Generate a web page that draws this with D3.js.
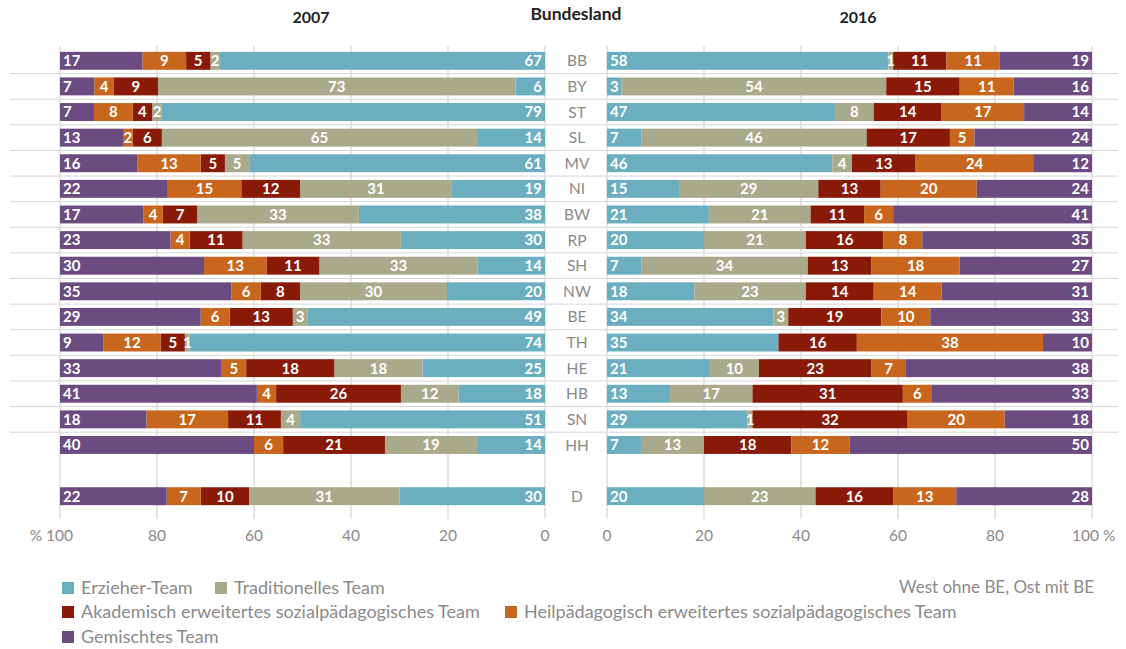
<!DOCTYPE html>
<html>
<head>
<meta charset="utf-8">
<script src="https://cdn.jsdelivr.net/npm/d3@7"></script>
<style>
  body { margin: 0; background: #fff; }
  svg { font-family: Lato, "Open Sans", sans-serif; }
</style>
</head>
<body>
<div id="chart"></div>
<script>
// data
const states = ["BB", "BY", "ST", "SL", "MV", "NI", "BW", "RP", "SH", "NW", "BE", "TH", "HE", "HB", "SN", "HH", "D"];
const teams = ["Erzieher-Team", "Traditionelles Team", "Akademisch erweitertes sozialpädagogisches Team",
               "Heilpädagogisch erweitertes sozialpädagogisches Team", "Gemischtes Team"];
const teamColors = ["#6aaec0", "#a9a98b", "#8a1a08", "#c9661d", "#6b4c80"];

// one array per team, same order as states
const erzieher2007 = [67, 6, 79, 14, 61, 19, 38, 30, 14, 20, 49, 74, 25, 18, 51, 14, 30];
const tradit2007   = [2, 73, 2, 65, 5, 31, 33, 33, 33, 30, 3, 1, 18, 12, 4, 19, 31];
const akadem2007   = [5, 9, 4, 6, 5, 12, 7, 11, 11, 8, 13, 5, 18, 26, 11, 21, 10];
const heilp2007    = [9, 4, 8, 2, 13, 15, 4, 4, 13, 6, 6, 12, 5, 4, 17, 6, 7];
const gemischt2007 = [17, 7, 7, 13, 16, 22, 17, 23, 30, 35, 29, 9, 33, 41, 18, 40, 22];

const erzieher2016 = [58, 3, 47, 7, 46, 15, 21, 20, 7, 18, 34, 35, 21, 13, 29, 7, 20];
const tradit2016   = [1, 54, 8, 46, 4, 29, 21, 21, 34, 23, 3, 0, 10, 17, 1, 13, 23];
const akadem2016   = [11, 15, 14, 17, 13, 13, 11, 16, 13, 14, 19, 16, 23, 31, 32, 18, 16];
const heilp2016    = [11, 11, 17, 5, 24, 20, 6, 8, 18, 14, 10, 38, 7, 6, 20, 12, 13];
const gemischt2016 = [19, 16, 14, 24, 12, 24, 41, 35, 27, 31, 33, 10, 38, 33, 18, 50, 28];

const ticks = [0, 20, 40, 60, 80, 100];
const note = "West ohne BE, Ost mit BE";

function buildRows(series) {
  return states.map((s, i) => {
    const row = {state: s};
    teams.forEach((t, j) => row[t] = series[j][i]);
    return row;
  });
}
const rows2007 = buildRows([erzieher2007, tradit2007, akadem2007, heilp2007, gemischt2007]);
const rows2016 = buildRows([erzieher2016, tradit2016, akadem2016, heilp2016, gemischt2016]);

const W = 1126, H = 649;
const svg = d3.select("#chart").append("svg")
  .attr("width", W).attr("height", H);

const color = d3.scaleOrdinal().domain(teams).range(teamColors);

// row positions, with an empty slot before D
const rowKeys = states.slice(0, 16).concat(["_gap", "D"]);
const y = d3.scaleBand().domain(rowKeys).range([48, 509])
  .paddingInner(0.3).paddingOuter(0.15);

const xLeft = d3.scaleLinear().domain([0, 1]).range([545, 60]);
const xRight = d3.scaleLinear().domain([0, 1]).range([607, 1092]);

const stack = d3.stack().keys(teams).offset(d3.stackOffsetExpand);

// row separator lines
svg.append("g").selectAll("line")
  .data(states.slice(0, 15))
  .join("line")
    .attr("x1", 10).attr("x2", 1118)
    .attr("y1", d => y(d) + y.bandwidth() + y.step() * 0.15)
    .attr("y2", d => y(d) + y.bandwidth() + y.step() * 0.15)
    .attr("stroke", "#d6d6d6").attr("stroke-width", 1);

function drawPanel(rows, x, mirrored) {
  const g = svg.append("g");

  // grid + ticks
  g.append("g").selectAll("line")
    .data(ticks)
    .join("line")
      .attr("x1", d => x(d / 100)).attr("x2", d => x(d / 100))
      .attr("y1", 46).attr("y2", 519)
      .attr("stroke", "#dcdcdc").attr("stroke-width", 1.5);

  g.append("g").selectAll("text")
    .data(ticks)
    .join("text")
      .attr("x", d => {
        if (d !== 100) return x(d / 100);
        return mirrored ? x(1) + 13 : x(1) - 20;
      })
      .attr("y", 541)
      .attr("text-anchor", d => d !== 100 ? "middle" : (mirrored ? "end" : "start"))
      .attr("fill", "#8a8a8a")
      .style("font-size", "15.5px")
      .text(d => d === 100 ? (mirrored ? "% 100" : "100 %") : d);

  const series = stack(rows);

  const layer = g.append("g").selectAll("g")
    .data(series)
    .join("g")
      .attr("fill", d => color(d.key));

  layer.selectAll("rect")
    .data(d => d)
    .join("rect")
      .attr("x", d => Math.min(x(d[0]), x(d[1])))
      .attr("width", d => Math.abs(x(d[1]) - x(d[0])))
      .attr("y", d => y(d.data.state))
      .attr("height", y.bandwidth());

  const labels = g.append("g")
    .style("font-size", "15px")
    .style("font-weight", "bold")
    .attr("fill", "#fff");

  series.forEach((s, k) => {
    labels.selectAll(null)
      .data(s.filter(d => d.data[s.key] > 0))
      .join("text")
        .attr("y", d => y(d.data.state) + y.bandwidth() / 2)
        .attr("dy", "0.36em")
        .attr("x", d => {
          if (k === 0) return x(d[0]) + (mirrored ? -3 : 3);
          if (k === teams.length - 1) return x(d[1]) + (mirrored ? 3 : -3);
          return (x(d[0]) + x(d[1])) / 2;
        })
        .attr("text-anchor", () => {
          if (k === 0) return mirrored ? "end" : "start";
          if (k === teams.length - 1) return mirrored ? "start" : "end";
          return "middle";
        })
        .text(d => d.data[s.key]);
  });
}

drawPanel(rows2007, xLeft, true);
drawPanel(rows2016, xRight, false);

// state labels in the middle
svg.append("g").selectAll("text")
  .data(states)
  .join("text")
    .attr("x", 577)
    .attr("y", d => y(d) + y.bandwidth() / 2)
    .attr("dy", "0.36em")
    .attr("text-anchor", "middle")
    .attr("fill", "#8a8a8a")
    .style("font-size", "15.5px")
    .text(d => d);

// headers
const headers = [{t: "2007", x: 311, y: 23, s: 16}, {t: "Bundesland", x: 576, y: 20, s: 17.5}, {t: "2016", x: 858, y: 23, s: 16}];
svg.append("g").selectAll("text")
  .data(headers)
  .join("text")
    .attr("x", d => d.x).attr("y", d => d.y)
    .attr("text-anchor", "middle")
    .attr("fill", "#222")
    .style("font-size", d => d.s + "px")
    .style("font-weight", "bold")
    .text(d => d.t);

// legend
const legendPos = [
  {x: 62, y: 588}, {x: 215, y: 588},
  {x: 62, y: 612}, {x: 505, y: 612},
  {x: 62, y: 637}
];
const legend = svg.append("g").selectAll("g")
  .data(teams)
  .join("g")
    .attr("transform", (d, i) => `translate(${legendPos[i].x},${legendPos[i].y})`);

legend.append("rect")
  .attr("x", 0).attr("y", -6)
  .attr("width", 12).attr("height", 12)
  .attr("fill", d => color(d));

legend.append("text")
  .attr("x", 19).attr("dy", "0.36em")
  .attr("fill", "#8a8a8a")
  .style("font-size", "18px")
  .text(d => d);

svg.append("text")
  .attr("x", 1094).attr("y", 587)
  .attr("dy", "0.36em")
  .attr("text-anchor", "end")
  .attr("fill", "#8a8a8a")
  .style("font-size", "17px")
  .text(note);
</script>
</body>
</html>
